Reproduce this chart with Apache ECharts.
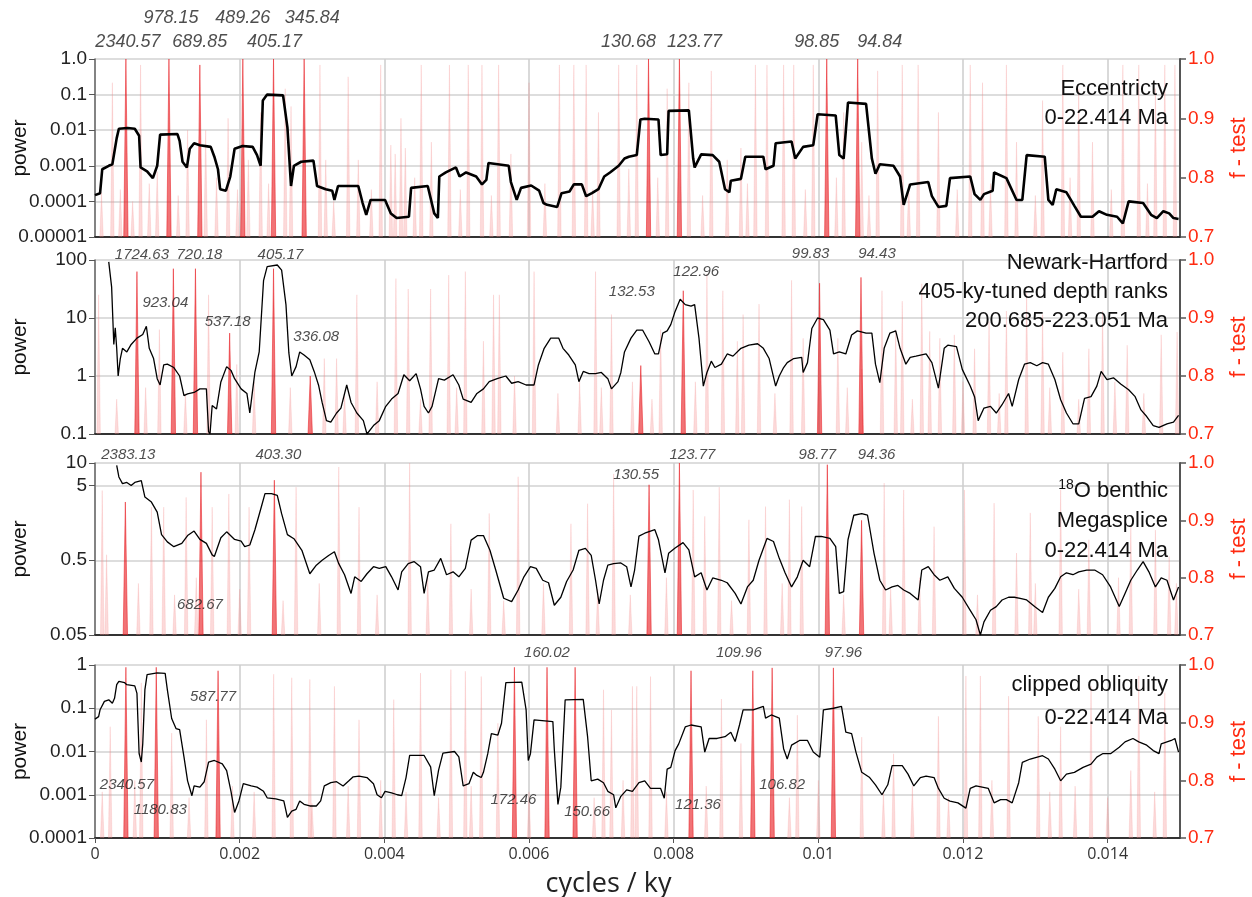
<!DOCTYPE html>
<html><head><meta charset="utf-8">
<script src="https://cdn.jsdelivr.net/npm/echarts@6/dist/echarts.min.js"></script>
<style>html,body{margin:0;padding:0;background:#fff}#c{width:1252px;height:897px}</style>
</head><body><div id="c"></div><script>
// ---------- DATA (frequencies in units of 1e-3 cycles/ky) ----------
const xTickInterval = 0.002;

// Panel tick values / labels (left power axes)
const eccTicks = [1, 0.1, 0.01, 0.001, 0.0001, 0.00001];
const eccTickLabels = ['1.0', '0.1', '0.01', '0.001', '0.0001', '0.00001'];
const nhTicks = [100, 10, 1, 0.1];
const nhTickLabels = ['100', '10', '1', '0.1'];
const o18Ticks = [10, 5, 0.5, 0.05];
const o18TickLabels = ['10', '5', '0.5', '0.05'];
const oblTicks = [1, 0.1, 0.01, 0.001, 0.0001];
const oblTickLabels = ['1', '0.1', '0.01', '0.001', '0.0001'];

// Power spectra [freq*1e3, power]
const eccPower = [[0,1.5e-4],[0.07,1.7e-4],[0.10,8e-4],[0.19,1e-3],[0.24,1.1e-3],[0.30,6e-3],[0.33,0.011],[0.45,0.0115],[0.55,0.011],[0.61,0.007],[0.63,9e-4],[0.72,7e-4],[0.80,4.5e-4],[0.86,1e-3],[0.90,0.0075],[1.14,0.0078],[1.17,0.005],[1.21,1.3e-3],[1.27,9e-4],[1.31,3e-3],[1.37,0.0043],[1.45,0.0038],[1.60,0.0034],[1.65,1.8e-3],[1.70,8e-4],[1.73,2.2e-4],[1.81,2e-4],[1.87,5e-4],[1.93,3e-3],[2.04,3.6e-3],[2.18,3.4e-3],[2.24,2e-3],[2.29,1e-3],[2.32,0.068],[2.38,0.1],[2.60,0.095],[2.66,0.012],[2.71,2.7e-4],[2.75,1e-3],[2.85,1.3e-3],[3.02,1.4e-3],[3.07,2.7e-4],[3.19,2.2e-4],[3.28,2e-4],[3.31,1.1e-4],[3.36,2.7e-4],[3.64,2.7e-4],[3.70,9e-5],[3.75,4.2e-5],[3.81,1.1e-4],[4.01,1.1e-4],[4.09,4.6e-5],[4.17,3.4e-5],[4.34,3.7e-5],[4.37,2.4e-4],[4.60,2.7e-4],[4.69,4.6e-5],[4.74,3.4e-5],[4.76,5e-4],[4.85,6.5e-4],[4.99,9e-4],[5.04,5e-4],[5.13,6.5e-4],[5.27,5e-4],[5.35,3e-4],[5.41,4e-4],[5.44,1.2e-3],[5.72,1e-3],[5.75,3.5e-4],[5.83,1.1e-4],[5.89,2.4e-4],[6.03,2.8e-4],[6.14,2e-4],[6.20,9e-5],[6.25,8e-5],[6.39,7e-5],[6.45,1.7e-4],[6.56,1.9e-4],[6.62,3e-4],[6.73,3e-4],[6.79,1.4e-4],[6.87,1.7e-4],[6.96,2.2e-4],[7.04,5e-4],[7.12,6.5e-4],[7.24,1e-3],[7.32,1.6e-3],[7.38,1.8e-3],[7.49,2e-3],[7.54,0.02],[7.60,0.021],[7.79,0.02],[7.82,2e-3],[7.91,2.1e-3],[7.93,0.035],[8.21,0.036],[8.27,1.6e-3],[8.29,9e-4],[8.38,2.1e-3],[8.54,2e-3],[8.63,1.3e-3],[8.71,2.2e-4],[8.77,1.8e-4],[8.79,3.8e-4],[8.93,4.3e-4],[8.99,1.8e-3],[9.24,1.8e-3],[9.27,8e-4],[9.38,1e-3],[9.41,4.3e-3],[9.63,4.8e-3],[9.68,1.6e-3],[9.79,3.4e-3],[9.93,3.8e-3],[9.99,0.028],[10.24,0.026],[10.29,2e-3],[10.35,1.6e-3],[10.41,0.06],[10.66,0.055],[10.74,1.6e-3],[10.79,6e-4],[10.85,1.1e-3],[11.04,1e-3],[11.13,5e-4],[11.18,8e-5],[11.27,3e-4],[11.52,3.5e-4],[11.57,1.4e-4],[11.66,7e-5],[11.77,7.5e-5],[11.82,4.5e-4],[12.10,5e-4],[12.16,1.6e-4],[12.24,1.1e-4],[12.29,1.6e-4],[12.41,2e-4],[12.43,6.5e-4],[12.60,4.5e-4],[12.74,1.1e-4],[12.82,1.1e-4],[12.88,2e-3],[13.13,1.8e-3],[13.18,1.1e-4],[13.24,8e-5],[13.29,2.2e-4],[13.43,1.8e-4],[13.54,7.5e-5],[13.63,3.7e-5],[13.79,3.7e-5],[13.88,5.3e-5],[13.99,4.2e-5],[14.13,3.7e-5],[14.21,2.4e-5],[14.29,1e-4],[14.49,9e-5],[14.60,4.2e-5],[14.68,3.4e-5],[14.77,5.3e-5],[14.85,4.6e-5],[14.91,3.4e-5],[14.98,3.2e-5]];

const nhPower = [[0.19,93],[0.23,34],[0.26,3.5],[0.28,6.8],[0.30,3],[0.32,1.0],[0.35,2],[0.38,3],[0.44,2.6],[0.50,3.5],[0.58,4.5],[0.66,5.2],[0.71,7.2],[0.75,3],[0.81,2],[0.86,0.9],[0.90,0.7],[0.95,1.55],[1.00,1.6],[1.09,1.4],[1.17,1.0],[1.23,0.46],[1.28,0.49],[1.37,0.52],[1.45,0.6],[1.54,0.6],[1.57,0.11],[1.59,0.1],[1.62,0.31],[1.68,0.27],[1.74,0.79],[1.82,1.45],[1.88,1.25],[1.93,0.9],[2.02,0.6],[2.10,0.5],[2.14,0.23],[2.17,0.46],[2.21,1.15],[2.27,2.6],[2.33,44],[2.38,77],[2.52,82],[2.58,67],[2.64,17],[2.68,2.5],[2.72,1.0],[2.78,1.45],[2.83,2.6],[2.89,2.3],[2.97,1.9],[3.03,1.2],[3.09,0.7],[3.14,0.35],[3.20,0.17],[3.26,0.16],[3.34,0.23],[3.40,0.28],[3.48,0.7],[3.54,0.35],[3.62,0.23],[3.71,0.17],[3.76,0.1],[3.85,0.14],[3.93,0.17],[4.02,0.3],[4.10,0.4],[4.19,0.5],[4.27,1.05],[4.35,0.83],[4.44,1.1],[4.50,0.6],[4.55,0.3],[4.61,0.23],[4.66,0.3],[4.75,0.9],[4.83,0.85],[4.95,1.05],[5.03,0.7],[5.09,0.4],[5.20,0.35],[5.28,0.5],[5.37,0.6],[5.45,0.8],[5.56,0.9],[5.68,1.0],[5.76,0.75],[5.85,0.8],[5.96,0.7],[6.07,0.7],[6.13,1.55],[6.21,3],[6.30,4.5],[6.41,4.5],[6.47,3],[6.55,2.3],[6.64,1.55],[6.69,0.8],[6.75,1.2],[6.83,1.1],[6.92,1.1],[7.00,1.15],[7.09,0.9],[7.14,0.6],[7.23,0.8],[7.27,1.15],[7.32,2.6],[7.41,4.5],[7.49,6.2],[7.57,6.2],[7.66,3.9],[7.74,2.4],[7.79,2.4],[7.85,5.5],[7.91,6],[7.96,7.7],[8.02,13],[8.09,21],[8.16,17],[8.24,16],[8.29,17],[8.35,4.5],[8.41,0.67],[8.46,1.15],[8.52,1.8],[8.57,1.4],[8.66,1.6],[8.74,2.4],[8.82,2.2],[8.93,3],[9.04,3.4],[9.16,3.6],[9.24,3],[9.32,2],[9.41,0.67],[9.46,1],[9.52,1.4],[9.57,1.7],[9.66,2],[9.77,2.1],[9.79,1.15],[9.85,1.7],[9.91,6.6],[9.99,10],[10.07,9.4],[10.16,6.2],[10.21,2.4],[10.29,2.6],[10.38,2.4],[10.46,5.1],[10.54,6],[10.66,5.5],[10.74,5.5],[10.79,1.6],[10.85,0.77],[10.91,3],[10.99,5.5],[11.07,6],[11.13,3],[11.21,1.6],[11.27,2.1],[11.35,2.2],[11.49,2.4],[11.57,1.7],[11.66,0.62],[11.74,3],[11.79,3.4],[11.91,3.2],[11.99,1.3],[12.10,0.67],[12.16,0.44],[12.21,0.17],[12.29,0.28],[12.38,0.3],[12.46,0.23],[12.54,0.32],[12.63,0.5],[12.68,0.3],[12.77,0.87],[12.85,1.6],[12.93,1.7],[13.02,1.5],[13.10,1.7],[13.18,1.6],[13.27,0.87],[13.35,0.39],[13.43,0.23],[13.52,0.15],[13.60,0.15],[13.68,0.41],[13.77,0.44],[13.85,0.67],[13.91,1.2],[13.99,0.87],[14.08,0.93],[14.18,0.73],[14.29,0.58],[14.38,0.44],[14.46,0.26],[14.54,0.2],[14.63,0.14],[14.71,0.13],[14.82,0.15],[14.91,0.16],[14.98,0.21]];

const o18Power = [[0.30,9.3],[0.33,6.5],[0.38,5.3],[0.44,5.5],[0.50,5.0],[0.55,5.5],[0.64,5.8],[0.69,3.5],[0.78,3.0],[0.86,2.2],[0.92,1.1],[1.00,0.88],[1.09,0.76],[1.20,0.84],[1.28,1.07],[1.37,1.23],[1.45,0.95],[1.54,0.84],[1.62,0.59],[1.65,0.56],[1.74,1.0],[1.82,1.2],[1.93,0.95],[2.02,0.9],[2.07,0.76],[2.14,0.8],[2.21,1.27],[2.30,2.6],[2.35,3.9],[2.44,3.9],[2.52,3.7],[2.58,2.1],[2.66,1.1],[2.75,0.97],[2.86,0.68],[2.97,0.33],[3.06,0.43],[3.14,0.5],[3.23,0.58],[3.31,0.65],[3.37,0.45],[3.45,0.32],[3.54,0.18],[3.59,0.3],[3.68,0.26],[3.76,0.33],[3.85,0.41],[3.93,0.39],[4.02,0.41],[4.10,0.3],[4.19,0.2],[4.24,0.35],[4.33,0.45],[4.41,0.48],[4.50,0.41],[4.55,0.18],[4.61,0.35],[4.69,0.37],[4.78,0.53],[4.86,0.32],[4.95,0.35],[5.03,0.3],[5.12,0.39],[5.20,0.93],[5.29,1.07],[5.37,1.07],[5.46,0.68],[5.54,0.37],[5.65,0.155],[5.76,0.14],[5.85,0.2],[5.93,0.3],[6.02,0.41],[6.10,0.39],[6.19,0.27],[6.27,0.25],[6.35,0.125],[6.44,0.16],[6.52,0.26],[6.61,0.37],[6.69,0.68],[6.78,0.72],[6.86,0.58],[6.92,0.27],[6.97,0.13],[7.03,0.27],[7.09,0.43],[7.17,0.45],[7.27,0.46],[7.35,0.41],[7.41,0.22],[7.46,0.37],[7.52,1.05],[7.60,1.15],[7.74,1.28],[7.79,0.94],[7.88,0.34],[7.93,0.62],[8.02,0.73],[8.13,0.86],[8.21,0.69],[8.29,0.3],[8.38,0.34],[8.46,0.2],[8.54,0.29],[8.66,0.27],[8.74,0.25],[8.85,0.18],[8.93,0.13],[9.02,0.22],[9.10,0.27],[9.18,0.5],[9.29,0.98],[9.38,0.89],[9.46,0.53],[9.54,0.34],[9.63,0.22],[9.71,0.3],[9.79,0.5],[9.88,0.41],[9.96,1.04],[10.04,1.04],[10.16,0.98],[10.24,0.76],[10.29,0.18],[10.35,0.19],[10.41,0.94],[10.49,2.0],[10.60,2.1],[10.68,2.0],[10.77,0.62],[10.85,0.27],[10.93,0.2],[11.02,0.22],[11.10,0.23],[11.18,0.2],[11.27,0.18],[11.38,0.147],[11.43,0.37],[11.52,0.41],[11.60,0.32],[11.68,0.27],[11.79,0.3],[11.88,0.21],[11.99,0.16],[12.10,0.107],[12.18,0.08],[12.24,0.05],[12.29,0.075],[12.38,0.107],[12.46,0.12],[12.54,0.147],[12.63,0.16],[12.71,0.16],[12.79,0.155],[12.88,0.147],[12.99,0.12],[13.10,0.1],[13.18,0.16],[13.27,0.21],[13.35,0.3],[13.43,0.34],[13.52,0.32],[13.60,0.35],[13.71,0.37],[13.82,0.37],[13.93,0.32],[14.04,0.22],[14.16,0.12],[14.24,0.18],[14.32,0.27],[14.41,0.37],[14.49,0.48],[14.57,0.35],[14.66,0.22],[14.74,0.29],[14.82,0.27],[14.91,0.147],[14.98,0.22]];

const oblPower = [[0,0.056],[0.05,0.064],[0.07,0.092],[0.13,0.144],[0.19,0.157],[0.24,0.13],[0.27,0.17],[0.30,0.35],[0.33,0.42],[0.41,0.39],[0.44,0.35],[0.55,0.33],[0.58,0.22],[0.61,0.0089],[0.64,0.0057],[0.66,0.015],[0.69,0.27],[0.72,0.6],[0.86,0.66],[0.97,0.64],[1.00,0.27],[1.06,0.058],[1.12,0.034],[1.17,0.032],[1.23,0.0075],[1.28,0.0021],[1.34,0.00095],[1.37,0.0016],[1.45,0.0015],[1.51,0.002],[1.57,0.0057],[1.65,0.0062],[1.76,0.0052],[1.82,0.0036],[1.88,0.0012],[1.93,0.00039],[1.99,0.00072],[2.05,0.0018],[2.16,0.0016],[2.24,0.0015],[2.33,0.0012],[2.38,0.00085],[2.50,0.0008],[2.61,0.00072],[2.66,0.0003],[2.72,0.00042],[2.78,0.00046],[2.83,0.00072],[2.89,0.0006],[2.97,0.00055],[3.06,0.00055],[3.12,0.00072],[3.17,0.0016],[3.26,0.0019],[3.34,0.002],[3.43,0.0016],[3.51,0.0021],[3.57,0.0026],[3.65,0.0027],[3.76,0.0025],[3.85,0.0018],[3.90,0.001],[3.96,0.00085],[4.01,0.0012],[4.10,0.0011],[4.18,0.001],[4.24,0.00095],[4.30,0.0025],[4.35,0.0081],[4.55,0.0081],[4.64,0.0044],[4.69,0.00095],[4.75,0.0037],[4.81,0.0092],[4.97,0.01],[5.03,0.0075],[5.09,0.0016],[5.17,0.0018],[5.23,0.0033],[5.28,0.0028],[5.34,0.0025],[5.37,0.0033],[5.43,0.0089],[5.48,0.026],[5.57,0.024],[5.62,0.045],[5.68,0.39],[5.90,0.4],[5.96,0.092],[5.99,0.0062],[6.02,0.0089],[6.07,0.054],[6.33,0.049],[6.35,0.011],[6.40,0.0006],[6.44,0.0015],[6.50,0.157],[6.75,0.16],[6.81,0.022],[6.86,0.0021],[6.95,0.0023],[7.03,0.0019],[7.09,0.0012],[7.17,0.001],[7.20,0.0005],[7.27,0.00092],[7.35,0.0013],[7.43,0.0012],[7.52,0.0019],[7.60,0.0021],[7.68,0.0014],[7.82,0.0014],[7.87,0.00083],[7.91,0.0039],[7.96,0.0043],[8.02,0.0105],[8.07,0.015],[8.16,0.037],[8.24,0.041],[8.38,0.037],[8.43,0.0097],[8.49,0.02],[8.60,0.02],[8.71,0.022],[8.79,0.028],[8.85,0.017],[8.91,0.041],[8.96,0.092],[9.10,0.092],[9.24,0.11],[9.27,0.059],[9.35,0.07],[9.46,0.059],[9.52,0.0116],[9.57,0.0067],[9.63,0.014],[9.74,0.018],[9.85,0.018],[9.93,0.0097],[10.02,0.0074],[10.07,0.092],[10.21,0.1],[10.32,0.11],[10.38,0.028],[10.46,0.026],[10.52,0.0097],[10.60,0.0033],[10.71,0.0025],[10.79,0.0017],[10.88,0.001],[10.96,0.0017],[11.02,0.0047],[11.16,0.0047],[11.24,0.003],[11.32,0.0016],[11.41,0.0025],[11.49,0.0027],[11.60,0.0025],[11.66,0.0014],[11.74,0.00083],[11.82,0.00071],[11.93,0.00065],[12.04,0.00049],[12.10,0.0014],[12.18,0.0016],[12.35,0.0014],[12.43,0.00065],[12.52,0.00077],[12.60,0.00077],[12.68,0.00065],[12.77,0.0019],[12.82,0.0056],[12.93,0.0067],[13.10,0.008],[13.18,0.0067],[13.27,0.0039],[13.35,0.0021],[13.43,0.003],[13.54,0.0033],[13.66,0.0043],[13.77,0.0051],[13.85,0.0074],[13.93,0.0089],[14.04,0.0089],[14.16,0.0126],[14.24,0.0167],[14.35,0.02],[14.43,0.0167],[14.54,0.014],[14.63,0.0105],[14.71,0.0089],[14.74,0.015],[14.88,0.018],[14.93,0.02],[14.98,0.0097]];

// F-test: labelled significant peaks [period (ky), f-test]
const eccPeaks = [[2340.57,1.0],[978.15,1.0],[689.85,0.99],[489.26,1.0],[405.17,1.0],[345.84,1.0],[130.68,1.0],[123.77,1.0],[98.85,1.0],[94.84,1.0]];
const nhPeaks = [[1724.63,0.98],[923.04,0.985],[720.18,0.985],[537.18,0.874],[405.17,0.985],[336.08,0.80],[132.53,0.818],[122.96,0.947],[99.83,0.96],[94.43,0.97]];
const o18Peaks = [[2383.13,0.932],[682.67,0.984],[403.30,0.97],[130.55,0.962],[123.77,1.0],[98.77,0.997],[94.36,0.90]];
const oblPeaks = [[2340.57,0.996],[1180.83,0.996],[587.77,0.99],[172.46,0.996],[160.02,0.996],[150.66,0.996],[121.36,0.99],[109.96,0.99],[106.82,0.995],[97.96,0.995]];

// F-test: other (pale) peaks [freq*1e3, f-test]
const eccFtest = [[0.09,0.775],[0.24,0.96],[0.63,0.99],[0.86,0.81],[1.28,0.88],[1.53,0.88],[1.84,0.90],[2.12,0.83],[2.29,0.91],[2.63,0.95],[2.71,0.92],[3.11,0.99],[3.19,0.83],[3.50,0.97],[3.64,0.83],[3.95,0.99],[4.09,0.855],[4.15,0.84],[4.23,0.90],[4.29,0.85],[4.51,0.99],[4.65,0.86],[4.90,0.99],[5.16,0.99],[5.35,0.99],[5.58,0.99],[5.75,0.84],[6.00,0.96],[6.42,0.99],[6.62,0.99],[6.79,0.99],[6.96,0.91],[7.24,0.99],[7.38,0.815],[7.49,0.99],[7.91,0.95],[8.21,0.96],[8.52,0.98],[8.74,0.83],[8.93,0.85],[9.13,0.99],[9.29,0.99],[9.52,0.99],[9.66,0.99],[9.93,0.99],[10.35,0.91],[10.60,0.86],[10.82,0.98],[11.16,0.99],[11.38,0.99],[11.66,0.91],[12.10,0.99],[12.27,0.96],[12.60,0.99],[12.74,0.86],[13.10,0.93],[13.38,0.99],[13.60,0.95],[13.79,0.86],[14.21,0.99],[14.43,0.99],[14.66,0.95],[14.79,0.99],[14.93,0.99],
  [0.35,0.78],[0.52,0.76],[0.75,0.79],[1.15,0.77],[1.68,0.80],[1.97,0.78],[2.40,0.79],[3.30,0.76],[3.82,0.78],[4.42,0.80],[5.05,0.78],[5.48,0.77],[6.22,0.79],[6.88,0.78],[7.78,0.80],[8.40,0.77],[9.02,0.79],[9.82,0.78],[10.25,0.80],[10.70,0.77],[11.25,0.79],[11.92,0.78],[12.38,0.79],[13.00,0.77],[13.48,0.80],[14.05,0.78],[14.55,0.79]];
const nhFtest = [[0.05,0.94],[0.89,0.88],[1.57,0.94],[1.96,0.82],[3.17,0.83],[3.34,0.83],[3.62,0.94],[4.16,0.968],[4.33,0.95],[4.64,0.95],[4.89,0.974],[5.12,0.98],[5.37,0.86],[5.51,0.94],[5.59,0.94],[6.07,0.98],[6.92,0.98],[7.14,0.906],[7.43,0.79],[7.82,0.88],[8.46,0.976],[8.68,0.947],[8.88,0.86],[8.96,0.906],[9.18,0.924],[9.63,0.965],[9.79,0.865],[10.27,0.865],[10.60,0.812],[10.88,0.947],[11.07,0.88],[11.16,0.929],[11.43,0.959],[11.54,0.877],[11.68,0.865],[11.88,0.871],[12.16,0.847],[12.36,0.894],[12.60,0.912],[12.88,0.944],[13.10,0.906],[13.38,0.841],[13.74,0.847],[13.93,0.912],[14.27,0.853],[14.74,0.871],[14.96,0.876],
  [0.30,0.76],[0.70,0.78],[1.25,0.77],[2.20,0.79],[2.70,0.78],[3.45,0.77],[3.90,0.79],[4.50,0.76],[5.00,0.78],[5.80,0.80],[6.40,0.77],[6.70,0.79],[7.00,0.78],[7.70,0.76],[8.30,0.79],[9.40,0.77],[10.40,0.78],[11.30,0.76],[12.00,0.79],[12.50,0.77],[13.20,0.78],[13.60,0.76],[14.10,0.79],[14.50,0.77]];
const o18Ftest = [[0.10,0.952],[0.16,0.84],[0.78,0.923],[0.95,0.923],[1.26,0.94],[1.62,0.923],[1.85,0.946],[2.13,0.923],[2.78,0.958],[3.37,0.993],[3.65,0.923],[4.35,1.0],[4.92,0.894],[5.45,0.912],[5.85,0.976],[6.58,0.894],[6.81,0.929],[7.17,0.981],[8.27,0.953],[8.43,0.907],[8.63,0.958],[9.04,0.901],[9.27,0.924],[9.60,0.936],[9.77,0.924],[10.91,0.965],[11.18,0.953],[11.60,0.889],[12.02,0.953],[12.43,0.93],[12.74,0.843],[12.93,0.913],[13.35,0.953],[13.74,0.866],[14.32,0.889],[14.66,0.883],[14.85,0.837],
  [0.60,0.79],[1.10,0.77],[1.40,0.80],[2.00,0.78],[2.60,0.76],[3.10,0.79],[3.90,0.77],[4.60,0.80],[5.20,0.78],[5.65,0.76],[6.20,0.79],[6.95,0.78],[7.40,0.77],[7.90,0.80],[8.80,0.76],[9.50,0.79],[10.35,0.77],[11.00,0.78],[11.40,0.80],[12.20,0.77],[13.00,0.79],[13.60,0.78],[14.15,0.80],[14.95,0.79]];
const oblFtest = [[0.21,0.893],[0.64,0.969],[1.06,0.882],[1.54,0.905],[2.47,0.984],[2.72,0.978],[2.97,0.975],[3.31,0.963],[3.65,0.905],[4.13,0.94],[4.50,0.986],[4.92,0.992],[5.12,0.989],[5.34,0.98],[5.57,0.899],[7.03,0.957],[7.14,0.922],[7.43,0.963],[7.49,0.963],[7.68,0.98],[8.66,0.941],[8.93,0.864],[9.71,0.913],[10.60,0.875],[11.04,0.846],[11.66,0.911],[12.04,0.981],[12.24,0.981],[12.63,0.946],[13.04,0.911],[13.35,0.893],[13.77,0.964],[14.32,0.817],[14.43,0.981],[14.79,0.952],
  [0.10,0.78],[0.55,0.80],[1.30,0.77],[1.90,0.79],[2.20,0.78],[3.00,0.76],[3.50,0.79],[3.95,0.80],[4.30,0.78],[4.75,0.77],[5.20,0.79],[6.00,0.78],[6.90,0.77],[7.30,0.80],[7.90,0.78],[8.45,0.79],[9.60,0.77],[10.00,0.80],[10.90,0.78],[11.30,0.79],[11.80,0.77],[12.40,0.80],[13.20,0.78],[13.55,0.79],[14.00,0.77],[14.65,0.78]];

const panelTitles = [
  ['Eccentricty', '0-22.414 Ma'],
  ['Newark-Hartford', '405-ky-tuned depth ranks', '200.685-223.051 Ma'],
  ['{s|18}O benthic', 'Megasplice', '0-22.414 Ma'],
  ['clipped obliquity', '0-22.414 Ma']
];

// ---------- LAYOUT / STYLE ----------
const grids = [
  {top: 59, height: 178}, {top: 260, height: 174}, {top: 463, height: 172}, {top: 665, height: 173}
];
const titleLineY = [[89, 118], [263, 292, 321], [491, 521, 551], [685, 718]];
// label offsets (px) relative to the spike top (f-test = 1.0)
const eccLabelOff = [[2,-17],[2,-41],[0,-17],[0,-41],[1,-17],[8,-41],[-20,-17],[15,-17],[-10,-17],[22,-17]];
const nhLabelOff = [[5,-5],[-8,43],[4,-5],[-2,62],[7,-5],[6,77],[-9,32],[13,12],[-9,-6],[16,-6]];
const o18LabelOff = [[3,-8],[-1,142],[4,-8],[-13,12],[13,-8],[-10,-8],[15,-8]];
const oblLabelOff = [[1,120],[4,145],[-5,32],[-1,135],[0,-12],[12,147],[7,140],[-14,-12],[10,120],[10,-12]];

const panels = [
  {power: eccPower, ticks: eccTicks, tickLabels: eccTickLabels, min: 0.00001, max: 1, peaks: eccPeaks, pale: eccFtest, off: eccLabelOff, lw: 2.6, labelSize: 18},
  {power: nhPower, ticks: nhTicks, tickLabels: nhTickLabels, min: 0.1, max: 100, peaks: nhPeaks, pale: nhFtest, off: nhLabelOff, lw: 1.3, labelSize: 15},
  {power: o18Power, ticks: o18Ticks, tickLabels: o18TickLabels, min: 0.05, max: 10, peaks: o18Peaks, pale: o18Ftest, off: o18LabelOff, lw: 1.3, labelSize: 15},
  {power: oblPower, ticks: oblTicks, tickLabels: oblTickLabels, min: 0.0001, max: 1, peaks: oblPeaks, pale: oblFtest, off: oblLabelOff, lw: 1.3, labelSize: 15}
];

const RED = '#ff2a10';
const FT_BASE = 0.7;
function spikes(list, halfW) {
  const out = [];
  list.forEach(([f, v]) => {
    out.push([f - halfW, FT_BASE], [f, v], [f + halfW, FT_BASE], [f + halfW, '-']);
  });
  return out;
}

const option = {
  animation: false,
  backgroundColor: '#fff',
  textStyle: {fontFamily: 'Liberation Sans'},
  grid: grids.map(g => ({left: 95, right: 72, top: g.top, height: g.height, containLabel: false, outerBoundsMode: 'none'})),
  xAxis: [], yAxis: [], series: [], graphic: []
};

panels.forEach((p, i) => {
  const last = i === panels.length - 1;
  option.xAxis.push({
    gridIndex: i, type: 'value', min: 0, max: 0.015, interval: xTickInterval,
    axisLine: {show: true, onZero: false, lineStyle: {color: '#333', width: 2}},
    axisTick: {show: last, length: 5, lineStyle: {color: '#555'}},
    axisLabel: {show: last, fontSize: 16, color: '#333', fontFamily: 'Open Sans', margin: 8, showMaxLabel: false,
      formatter: v => String(+v.toFixed(3))},
    splitLine: {show: true, lineStyle: {color: '#cdcdcd', width: 1.5}},
    name: last ? 'cycles / ky' : '', nameLocation: 'middle', nameGap: 33, nameMoveOverlap: false,
    nameTextStyle: {fontSize: 27, color: '#222', fontFamily: 'Open Sans', padding: [0, 58, 0, 0]}
  });
  const tk = p.ticks, tl = p.tickLabels;
  option.yAxis.push({
    gridIndex: i, type: 'log', logBase: 10, min: p.min, max: p.max, position: 'left',
    axisLine: {show: true, lineStyle: {color: '#666', width: 1.5}},
    axisTick: {show: true, length: 6, customValues: tk, lineStyle: {color: '#555'}},
    axisLabel: {show: true, customValues: tk, fontSize: 19, color: '#222', margin: 8,
      formatter: v => {
        const k = tk.findIndex(t => Math.abs(Math.log10(t) - Math.log10(v)) < 1e-6);
        return k >= 0 ? tl[k] : '';
      }},
    splitLine: {show: true, customValues: tk, lineStyle: {color: '#d2d2d2', width: 1.5}},
    name: 'power', nameLocation: 'middle', nameGap: 64, nameRotate: 90, nameMoveOverlap: false,
    nameTextStyle: {fontSize: 21, color: '#111'}
  });
  option.yAxis.push({
    gridIndex: i, type: 'value', min: 0.7, max: 1.0, interval: 0.1, position: 'right',
    axisLine: {show: true, lineStyle: {color: '#555', width: 2}},
    axisTick: {show: true, length: 6, lineStyle: {color: '#555', width: 1.5}},
    axisLabel: {color: RED, fontSize: 19, margin: 8, formatter: v => v.toFixed(1)},
    splitLine: {show: false},
    name: 'f - test', nameLocation: 'middle', nameGap: 48, nameRotate: 90, nameMoveOverlap: false,
    nameTextStyle: {fontSize: 22, color: RED}
  });

  const toX = arr => arr.map(([f, v]) => [f / 1000, v]);
  option.series.push({
    type: 'line', xAxisIndex: i, yAxisIndex: 2 * i + 1, symbol: 'none', silent: true, z: 1,
    data: spikes(toX(p.pale), 0.000024), connectNulls: false,
    lineStyle: {width: 0.4, color: 'rgba(245,140,140,0.5)'},
    areaStyle: {color: 'rgba(245,140,140,0.45)', origin: 'start'}
  });
  option.series.push({
    type: 'line', xAxisIndex: i, yAxisIndex: 2 * i + 1, symbol: 'none', silent: true, z: 2,
    data: spikes(p.peaks.map(([per, v]) => [1 / per, v]), 0.00003), connectNulls: false,
    lineStyle: {width: 0.6, color: 'rgba(232,20,25,0.85)'},
    areaStyle: {color: 'rgba(232,20,25,0.85)', origin: 'start'}
  });
  option.series.push({
    type: 'line', xAxisIndex: i, yAxisIndex: 2 * i, symbol: 'none', silent: true, z: 5,
    data: toX(p.power), lineStyle: {color: '#000', width: p.lw}
  });
  option.series.push({
    type: 'scatter', xAxisIndex: i, yAxisIndex: 2 * i + 1, symbolSize: 0, clip: false, silent: true, z: 6,
    data: p.peaks.map(([per], k) => ({value: [1 / per, 1.0], name: per.toFixed(2),
      label: {offset: p.off[k]}})),
    label: {show: true, position: 'inside', formatter: d => d.name, fontStyle: 'italic',
      fontSize: p.labelSize, color: '#222', fontFamily: 'Liberation Sans'}
  });
  panelTitles[i].forEach((t, k) => {
    option.graphic.push({
      type: 'text', x: 1168, y: titleLineY[i][k], z: 10,
      style: {text: t, align: 'right', verticalAlign: 'middle', fill: '#111',
        font: '22px "Liberation Sans"',
        rich: {s: {fontSize: 14, fontFamily: 'Liberation Sans', fill: '#111', padding: [0, 0, 12, 0]}}}
    });
  });
});

const chart = echarts.init(document.getElementById('c'), null, {renderer: 'canvas'});
chart.setOption(option);
</script></body></html>
